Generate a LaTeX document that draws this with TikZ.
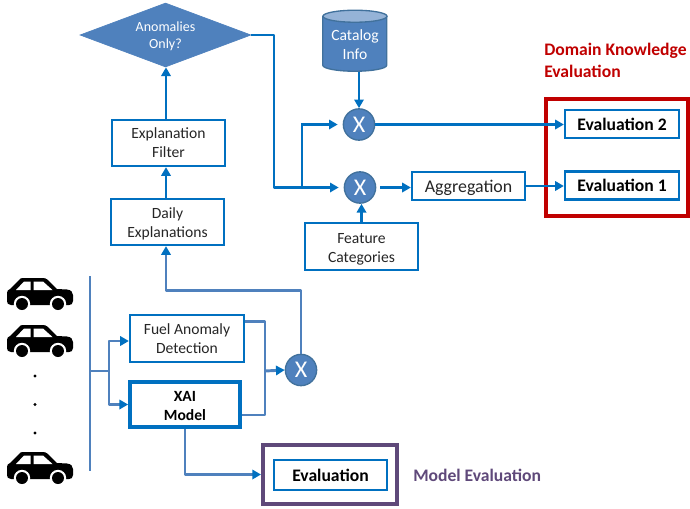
\documentclass[tikz,border=0pt]{standalone}
\usepackage{fontspec}
\setmainfont{Carlito}
\usetikzlibrary{arrows.meta,shapes.geometric,calc}
\definecolor{boxblue}{HTML}{0070C0}
\definecolor{steel}{HTML}{4F81BD}
\definecolor{steeldark}{HTML}{41719C}
\definecolor{steellight}{HTML}{95B3D7}
\definecolor{darkred}{HTML}{C00000}
\definecolor{plum}{HTML}{5F497A}
\tikzset{
  box/.style n args={2}{draw=boxblue,line width=1.7pt,fill=white,rectangle,inner sep=0pt,align=center,text=black!85,font=\fontsize{11.7}{14.3}\selectfont,minimum width=#1*0.75pt,minimum height=#2*0.75pt},
  evalbox/.style={box={114}{28},font=\fontsize{13.2}{14.3}\selectfont\bfseries,text=black},
  flow/.style={draw=boxblue,line width=2pt,-{Triangle[length=6.5pt,width=7pt]}},
  wire/.style={draw=steel,line width=2.2pt,line join=round},
  wirearrow/.style={wire,-{Triangle[length=6.5pt,width=7pt,color=boxblue]}},
  mult/.style={circle,fill=steel,draw=steeldark,line width=1pt,minimum size=23.5pt,inner sep=0pt,text=white,font=\fontsize{18}{18}\selectfont},
  title/.style={font=\fontsize{13.2}{16.5}\selectfont\bfseries,align=left,anchor=west,inner sep=0pt},
  frame/.style n args={3}{draw=#1,line width=3pt,minimum width=#2*0.75pt,minimum height=#3*0.75pt,inner sep=0pt},
  car/.pic={
    \fill[black] (-33,1) .. controls (-33,-3) and (-32,-5) .. (-30,-5)
      -- (-21,-14) .. controls (-20,-15.5) and (-19,-16) .. (-17,-16)
      -- (3,-16) .. controls (5,-16) and (6,-15.5) .. (8,-14)
      -- (17,-5) -- (27,-4.5) .. controls (31,-4) and (33,-2) .. (33,1)
      -- (33,7) .. controls (33,10) and (31,11) .. (29,11) -- (-29,11)
      .. controls (-32,11) and (-33,9) .. (-33,7) -- cycle;
    \fill[white] (-24,-4) -- (-16,-12.5) -- (-9.5,-12.5) -- (-9.5,-4) -- cycle;
    \fill[white] (-6.5,-4) -- (-6.5,-12.5) -- (3,-12.5) -- (12.5,-4) -- cycle;
    \foreach \wx in {-18,18}{
      \fill[white] (\wx,10) circle[radius=8.2];
      \fill[black] (\wx,10) circle[radius=6];
    }
  },
}
\begin{document}
\begin{tikzpicture}[x=0.75pt,y=-0.75pt]
\useasboundingbox (0,0) rectangle (690,508);

% cars and dots
\pic at (40,294) {car};
\pic at (40,341) {car};
\pic at (40,468) {car};
\fill (35,376) circle[radius=1.7];
\fill (35,404.5) circle[radius=1.7];
\fill (35,433) circle[radius=1.7];

% frames and titles
\node[frame={darkred}{142}{117}] (domainframe) at (617,157.5) {};
\node[frame={plum}{134}{59}] (modelframe) at (330,474.5) {};
\node[title,text=darkred] (domaintitle) at (544,60) {Domain Knowledge\\Evaluation};
\node[title,text=plum] (modeltitle) at (413,475) {Model Evaluation};

% boxes
\node[box={114}{47}] (fuel) at (187,338.5) {Fuel Anomaly\\Detection};
\node[box={110}{45},line width=2.8pt,font=\fontsize{11.7}{14.3}\selectfont\bfseries,text=black] (xai) at (185,404.5) {\rule{0pt}{10.5pt}XAI\\Model};
\node[box={113}{46}] (daily) at (167.5,222) {\rule{0pt}{10.5pt}Daily\\Explanations};
\node[box={113.5}{46}] (filter) at (168.5,143) {Explanation\\Filter};
\node[box={113}{47}] (feature) at (361.5,246.5) {\rule{0pt}{12pt}Feature\\Categories};
\node[box={113}{28},font=\fontsize{13.4}{14.3}\selectfont] (aggregation) at (468.5,186) {\rule{0pt}{11.5pt}Aggregation};
\node[evalbox] (evaltwo) at (622,124) {Evaluation 2};
\node[evalbox] (evalone) at (622,185.5) {Evaluation 1};
\node[box={113}{30},font=\fontsize{13.2}{14.3}\selectfont\bfseries,text=black] (evalmodel) at (330.5,475) {Evaluation};

% diamond
\node[diamond,aspect=2.67,fill=steel,draw=steel,line width=0.5pt,inner sep=0pt,minimum width=171*0.75pt,minimum height=64*0.75pt] (anomalies) at (165.5,35) {};
\node[font=\fontsize{10.5}{12.8}\selectfont,align=center,text=white,inner sep=0pt] (anomaliestext) at (165.5,36.5) {Anomalies\\Only?};

% catalog cylinder
\node[minimum width=64*0.75pt,minimum height=61*0.75pt,inner sep=0pt] (catalog) at (355,41) {};
\draw[draw=steeldark,line width=1pt,fill=steel] (catalog.north west) ++(0,6)
  -- ++(0,49) arc[start angle=180,end angle=0,x radius=32,y radius=6]
  -- ++(0,-49) -- cycle;
\draw[draw=steeldark,line width=1pt,fill=steellight] ($(catalog.north)+(0,6)$) ellipse[x radius=32,y radius=6];
\node[text=white,align=center,inner sep=0pt,font=\fontsize{11.7}{14.3}\selectfont] (catalogtext) at (355,45) {Catalog\\Info};

% multipliers
\node[mult] (xbottom) at (301,370) {X};
\node[mult] (xtop) at (359,124.5) {X};
\node[mult] (xmid) at (360,187.5) {X};

% named junctions
\coordinate (bustop) at (90,276);
\coordinate (busbottom) at (90,471);
\coordinate (busmid) at (90,371);
\coordinate (split) at (109,371);
\coordinate (feedin) at (265,371);
\coordinate (mainin) at (302,187.5);
\coordinate (turntop) at (274,35);
\coordinate (turnbottom) at (274,187.5);
\coordinate (xmidout) at ($(xmid.east)+(4,0)$);

% bus and inputs
\draw[wire] (bustop) -- (busbottom);
\draw[wire] (busmid) -- (split);
\draw[wirearrow] (split) |- ($(fuel.west)+(0,2.5)$);
\draw[wirearrow] (split) |- (xai.west);
\draw[wire] ($(fuel.east)+(0,-17)$) -| (feedin) |- ($(xai.east)+(0,10.5)$);
\draw[wirearrow] (feedin) -- (xbottom.west);
\draw[wirearrow] (xbottom.north) |- ($(daily.south)+(-1.5,44)$) -- ($(daily.south)+(-1.5,0)$);
\draw[wirearrow] (xai.south) |- (modelframe.west);
\draw[flow] ($(daily.north)+(-1.5,0)$) -- ($(filter.south)+(-2.5,0)$);
\draw[flow] ($(filter.north)+(-2.5,0)$) -- ($(anomalies.south)+(0.5,0)$);
\draw[wire,draw=boxblue] (anomalies.east) -- (turntop) -- (turnbottom) -- (mainin);
\draw[flow] (mainin) -- ($(xmid.west)+(-5,0)$);
\draw[flow] (mainin) |- ($(xtop.west)+(-5,0)$);
\draw[flow] ($(catalog.south)+(4,0)$) -- (xtop.north);
\draw[flow] (feature.north) -- (xmid.south -| feature.north);
\draw[flow] (xtop.east) -- (xtop.east -| evaltwo.west);
\draw[flow] (xmidout) -- (xmidout -| aggregation.west);
\draw[flow] (aggregation.east) -- (aggregation.east -| evalone.west);
\end{tikzpicture}
\end{document}
